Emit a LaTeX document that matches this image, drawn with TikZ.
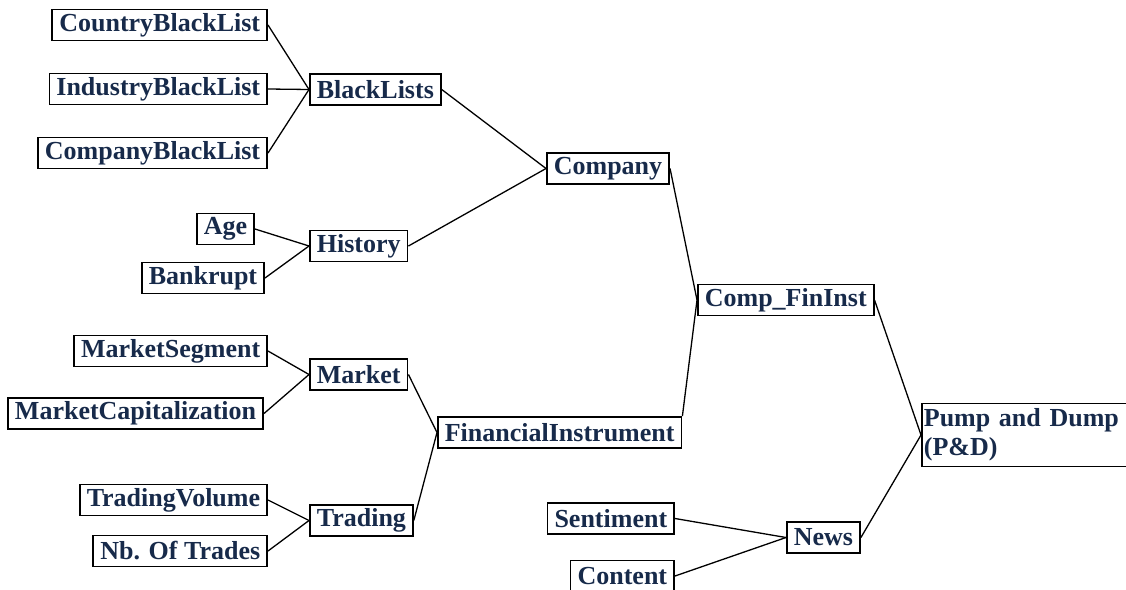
\documentclass[tikz,border=0pt]{standalone}
\usepackage{fontspec}
\setmainfont{Liberation Serif}
\definecolor{labelnavy}{HTML}{172A4A}

\tikzstyle{factor}=[draw,line width=1.7pt,rectangle,inner xsep=7pt,inner ysep=0pt,minimum height=31pt,font=\fontsize{26}{29}\selectfont\bfseries,text=labelnavy]
\tikzstyle{link} = [draw,line width=1.3pt,-]

\begin{document}
\begin{tikzpicture}[x=1pt,y=-1pt]
			\useasboundingbox (0,0) rectangle (1126,589);
			% Leaves on the left
			\node[factor,anchor=east] (country) at (268,25) {CountryBlackList};
			\node[factor,anchor=east] (industry) at (268,89) {IndustryBlackList};
			\node[factor,anchor=east] (compbl) at (268,153) {CompanyBlackList};
			\node[factor,anchor=east] (age) at (255,229) {Age};
			\node[factor,anchor=east] (bankrupt) at (265,278) {Bankrupt};
			\node[factor,anchor=east] (segment) at (268,351) {MarketSegment};
			\node[factor,anchor=east] (capital) at (264,413.5) {MarketCapitalization};
			\node[factor,anchor=east] (volume) at (268,500) {TradingVolume};
			\node[factor,anchor=east] (trades) at (268,551) {Nb. Of Trades};
			\node[factor,anchor=east] (sentiment) at (675,518.5) {Sentiment};
			\node[factor,anchor=east] (content) at (675,576) {Content};
			% Intermediate factors
			\node[factor,anchor=west] (blacklists) at (309,89.5) {BlackLists};
			\node[factor,anchor=west] (history) at (309,246) {History};
			\node[factor,anchor=west] (market) at (309,374.5) {Market};
			\node[factor,anchor=west] (trading) at (309,520.5) {Trading};
			\node[factor,anchor=west] (company) at (546,168.5) {Company};
			\node[factor,anchor=west] (fininst) at (437,432.5) {FinancialInstrument};
			\node[factor,anchor=west] (compfin) at (697,300) {Comp\_FinInst};
			\node[factor,anchor=west] (news) at (786,537.5) {News};
			% Root
			\node[factor,anchor=west,align=left,inner xsep=2pt,minimum height=63pt,text width=205pt] (pnd) at (921,435) {Pump and Dump\\(P\&D)};
			% Connect children with parents
			\foreach \source/ \dest in {country/blacklists, industry/blacklists, compbl/blacklists,
				age/history, bankrupt/history, blacklists/company, history/company,
				segment/market, capital/market, volume/trading, trades/trading,
				market/fininst, trading/fininst, company/compfin, compfin/pnd,
				sentiment/news, content/news, news/pnd}
				\path[link] (\source.east) to (\dest.west);
			\path[link] (fininst.north east) to (compfin.west);
		\end{tikzpicture}
\end{document}
